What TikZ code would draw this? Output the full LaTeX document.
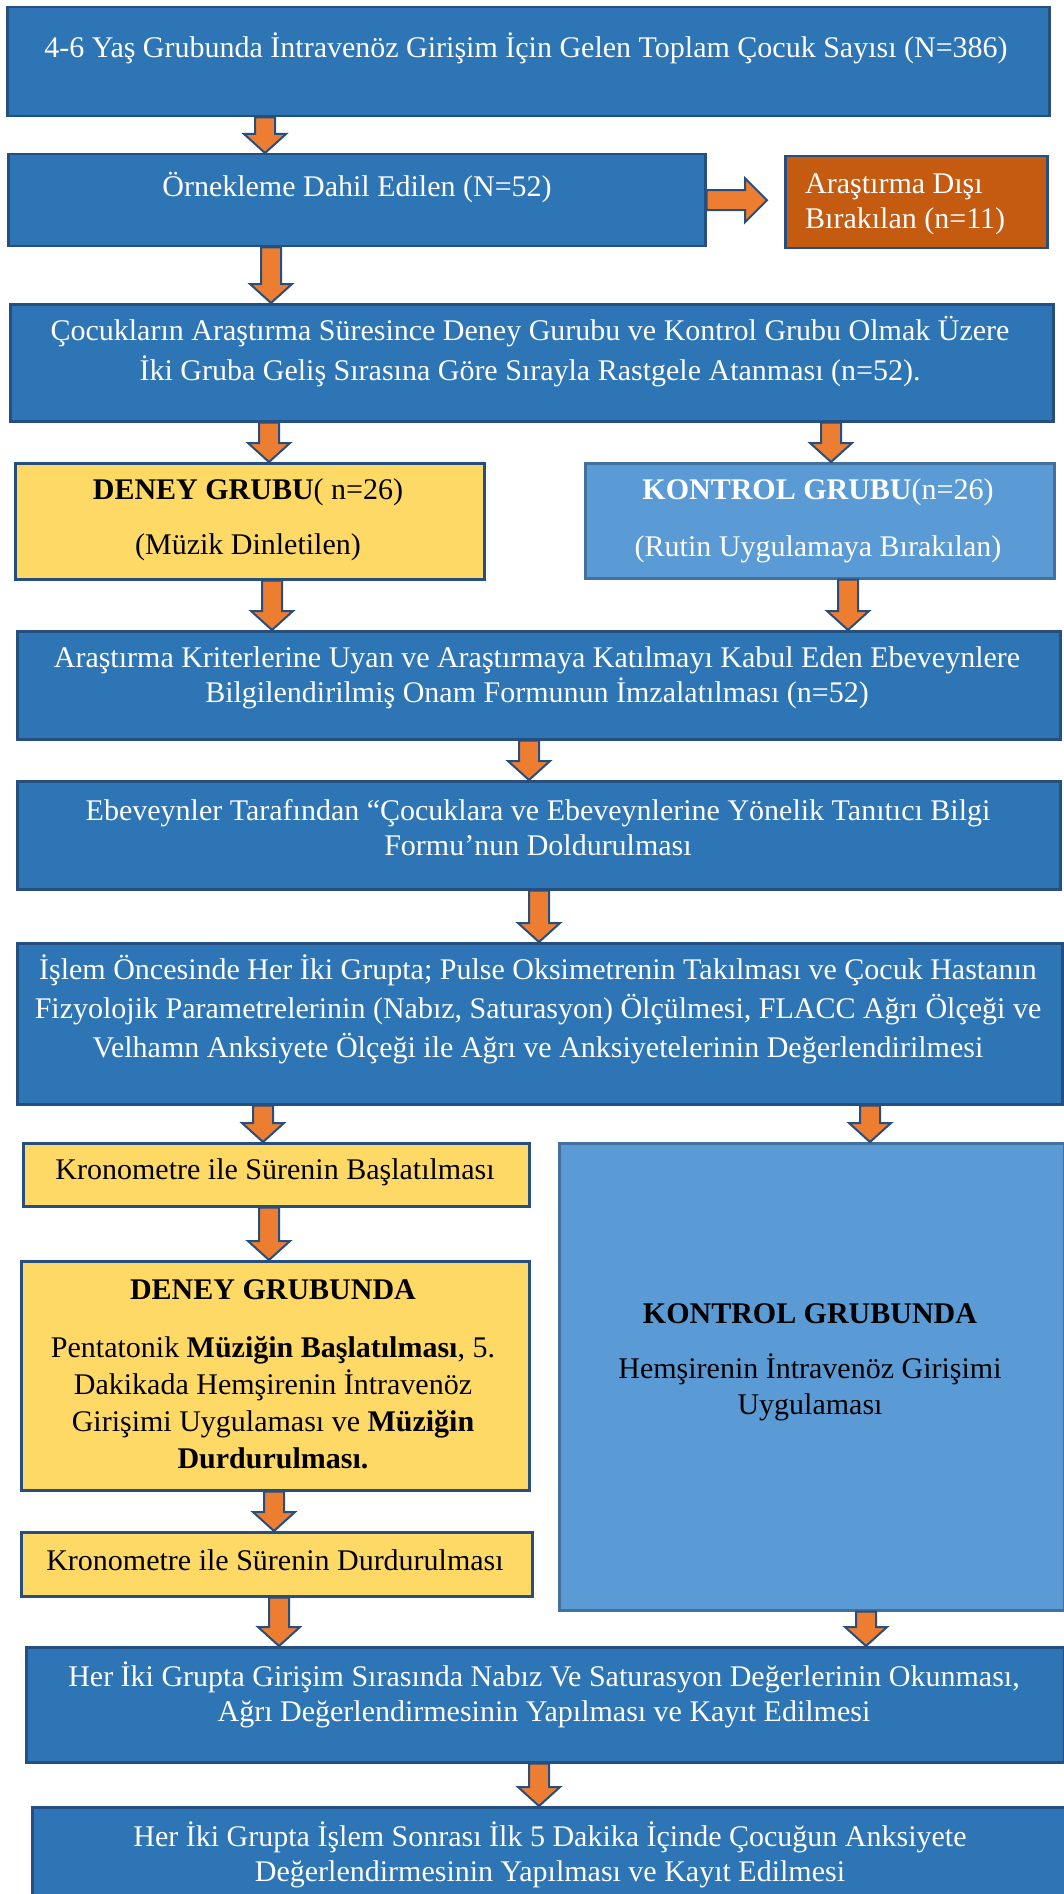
\documentclass[tikz,border=0pt]{standalone}
\usepackage{fontspec}
\setmainfont{Liberation Serif}
\usetikzlibrary{calc}
\definecolor{dblue}{HTML}{2E75B6}
\definecolor{bord}{HTML}{264E7E}
\definecolor{lblue}{HTML}{5B9BD5}
\definecolor{lbord}{HTML}{41719C}
\definecolor{yel}{HTML}{FFD966}
\definecolor{oboxc}{HTML}{C55A11}
\definecolor{arrowc}{HTML}{ED7D31}
\tikzset{
  box/.style={draw=bord, line width=2.5pt, anchor=north west, inner sep=0pt},
  bluebox/.style={box, fill=dblue},
  lightbox/.style={box, fill=lblue, draw=lbord},
  yelbox/.style={box, fill=yel},
  orgbox/.style={box, fill=oboxc},
  txt/.style={font=\fontsize{30}{#1}\selectfont, align=center, inner sep=0pt},
  wtxt/.style={txt=#1, text=white},
  btxt/.style={txt=#1, text=black},
  blockarrow/.style={fill=arrowc, draw=bord, line width=2pt, line join=miter}
}
\newcommand\varrow[3]{%
  \draw[blockarrow] let \p1=(#2.south), \p2=(#3.north) in
  (#1pt-10pt,\y1) -- (#1pt+10pt,\y1) -- (#1pt+10pt,\y2+19pt) -- (#1pt+21pt,\y2+19pt)
  -- (#1pt,\y2) -- (#1pt-21pt,\y2+19pt) -- (#1pt-10pt,\y2+19pt) -- cycle;}
\begin{document}
\begin{tikzpicture}[x=1pt,y=-1pt]
\useasboundingbox (0,0) rectangle (1064,1894);
% boxes
\node[bluebox, minimum width=1042pt, minimum height=109pt] (b1) at (6,6) {};
\node[bluebox, minimum width=697pt, minimum height=92pt] (b2) at (7,153) {};
\node[orgbox, minimum width=262pt, minimum height=92pt] (bo) at (784,155) {};
\node[bluebox, minimum width=1043pt, minimum height=117pt] (b3) at (9,303) {};
\node[yelbox, minimum width=469pt, minimum height=116pt] (bd) at (14,462) {};
\node[lightbox, minimum width=469pt, minimum height=115pt] (bk) at (584,462) {};
\node[bluebox, minimum width=1043pt, minimum height=108pt] (b4) at (16,630) {};
\node[bluebox, minimum width=1043pt, minimum height=108pt] (b5) at (16,780) {};
\node[bluebox, minimum width=1045pt, minimum height=161pt] (b6) at (16,942) {};
\node[yelbox, minimum width=506pt, minimum height=63pt] (kr1) at (22,1142) {};
\node[lightbox, minimum width=505pt, minimum height=467pt] (kg) at (558,1142) {};
\node[yelbox, minimum width=508pt, minimum height=229pt] (dg) at (20,1260) {};
\node[yelbox, minimum width=511pt, minimum height=64pt] (kr2) at (20,1531) {};
\node[bluebox, minimum width=1038pt, minimum height=115pt] (b7) at (25,1646) {};
\node[bluebox, minimum width=1045pt, minimum height=100pt] (b8) at (31,1806) {};
% texts
\node[wtxt=36] (t1) at (526,48) {4-6 Yaş Grubunda İntravenöz Girişim İçin Gelen Toplam Çocuk Sayısı (N=386)};
\node[wtxt=36] (t2) at (357,188) {Örnekleme Dahil Edilen (N=52)};
\node[wtxt=35, align=left, anchor=west] (to) at (805,204.5) {Araştırma Dışı\\Bırakılan (n=11)};
\node[wtxt=40] (t3) at (530,352) {Çocukların Araştırma Süresince Deney Gurubu ve Kontrol Grubu Olmak Üzere\\İki Gruba Geliş Sırasına Göre Sırayla Rastgele Atanması (n=52).};
\node[btxt=36] (td) at (248,519.5) {\textbf{DENEY GRUBU}( n=26)\\[19pt](Müzik Dinletilen)};
\node[wtxt=36] (tk) at (818,520.5) {\textbf{KONTROL GRUBU}(n=26)\\[21pt](Rutin Uygulamaya Bırakılan)};
\node[wtxt=35] (t4) at (537,677.5) {Araştırma Kriterlerine Uyan ve Araştırmaya Katılmayı Kabul Eden Ebeveynlere\\Bilgilendirilmiş Onam Formunun İmzalatılması (n=52)};
\node[wtxt=35] (t5) at (538,827.5) {Ebeveynler Tarafından “Çocuklara ve Ebeveynlerine Yönelik Tanıtıcı Bilgi\\Formu’nun Doldurulması};
\node[wtxt=39] (t6) at (538,1009) {İşlem Öncesinde Her İki Grupta; Pulse Oksimetrenin Takılması ve Çocuk Hastanın\\Fizyolojik Parametrelerinin (Nabız, Saturasyon) Ölçülmesi, FLACC Ağrı Ölçeği ve\\Velhamn Anksiyete Ölçeği ile Ağrı ve Anksiyetelerinin Değerlendirilmesi};
\node[btxt=36] (tkr1) at (275,1172) {Kronometre ile Sürenin Başlatılması};
\node[btxt=37] (tdg) at (273,1374) {\textbf{DENEY GRUBUNDA}\\[21pt]Pentatonik \textbf{Müziğin Başlatılması}, 5.\\Dakikada Hemşirenin İntravenöz\\Girişimi Uygulaması ve \textbf{Müziğin}\\\textbf{Durdurulması.}};
\node[btxt=36] (tkg) at (810,1362.5) {\textbf{KONTROL GRUBUNDA}\\[19pt]Hemşirenin İntravenöz Girişimi\\Uygulaması};
\node[btxt=36] (tkr2) at (275,1560) {Kronometre ile Sürenin Durdurulması};
\node[wtxt=35] (t7) at (544,1694.5) {Her İki Grupta Girişim Sırasında Nabız Ve Saturasyon Değerlerinin Okunması,\\Ağrı Değerlendirmesinin Yapılması ve Kayıt Edilmesi};
\node[wtxt=35] (t8) at (550,1854.5) {Her İki Grupta İşlem Sonrası İlk 5 Dakika İçinde Çocuğun Anksiyete\\Değerlendirmesinin Yapılması ve Kayıt Edilmesi};
% arrows
\varrow{265}{b1}{b2}
\draw[blockarrow] let \p1=(b2.east), \p2=(bo.west) in
  (\x1,\y1+10pt) -- (\x2-39pt,\y1+10pt) -- (\x2-39pt,\y1+22pt) -- (\x2-17pt,\y1)
  -- (\x2-39pt,\y1-22pt) -- (\x2-39pt,\y1-10pt) -- (\x1,\y1-10pt) -- cycle;
\varrow{271}{b2}{b3}
\varrow{269}{b3}{bd}
\varrow{831}{b3}{bk}
\varrow{272}{bd}{b4}
\varrow{848}{bk}{b4}
\varrow{529}{b4}{b5}
\varrow{539}{b5}{b6}
\varrow{263}{b6}{kr1}
\varrow{870}{b6}{kg}
\varrow{269}{kr1}{dg}
\varrow{274}{dg}{kr2}
\varrow{279}{kr2}{b7}
\varrow{866}{kg}{b7}
\varrow{539}{b7}{b8}
\end{tikzpicture}
\end{document}
